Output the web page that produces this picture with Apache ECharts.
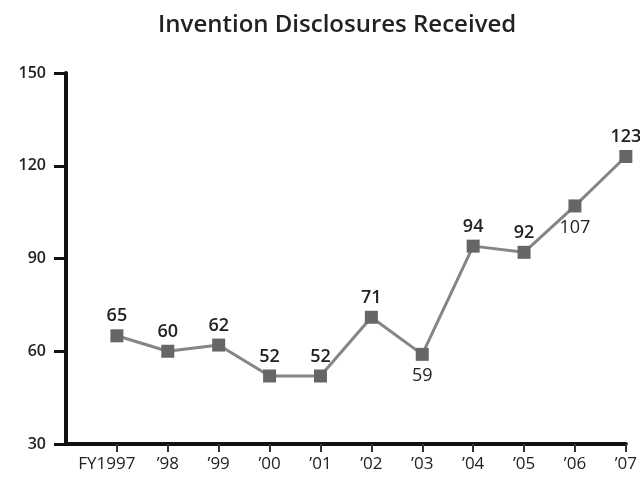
<!DOCTYPE html>
<html lang="en">
<head>
    <meta charset="UTF-8">
    <title>Invention Disclosures Received</title>
    <script src="https://cdn.jsdelivr.net/npm/echarts@6/dist/echarts.min.js"></script>
    <style>
        html, body { margin: 0; padding: 0; background: #fff; }
        #main { width: 640px; height: 487px; }
    </style>
</head>
<body>
    <div id="main"></div>
    <script>
        // data
        var years = ['', 'FY1997', '\u201998', '\u201999', '\u201900', '\u201901', '\u201902', '\u201903', '\u201904', '\u201905', '\u201906', '\u201907'];
        var disclosures = [null, 65, 60, 62, 52, 52, 71, 59, 94, 92, 107, 123];
        // labels that sit under the marker instead of above
        var labelBelow = ['\u201903', '\u201906'];

        var points = disclosures.map(function (v, i) {
            if (v === null) return null;
            var below = labelBelow.indexOf(years[i]) >= 0;
            return {
                value: v,
                label: below
                    ? { position: 'bottom', distance: 6, fontWeight: 'normal' }
                    : { position: 'top', distance: 4 }
            };
        });

        // first label sits a little left of its tick in the original
        var xLabels = years.map(function (y, i) {
            return i === 1 ? { value: y, textStyle: { padding: [0, 20, 0, 0] } } : y;
        });

        var myChart = echarts.init(document.getElementById('main'));

        var option = {
            animation: false,
            textStyle: { fontFamily: 'Open Sans' },
            title: {
                text: 'Invention Disclosures Received',
                left: 153,
                top: 8,
                textStyle: { fontSize: 24, fontWeight: 600, color: '#222', fontFamily: 'Open Sans' }
            },
            grid: { left: 66, right: 14, top: 73, bottom: 43 },
            xAxis: {
                type: 'category',
                data: xLabels,
                boundaryGap: false,
                axisLine: { lineStyle: { color: '#111', width: 4 } },
                axisTick: {
                    length: 8,
                    interval: function (i) { return i > 0; },
                    lineStyle: { color: '#333', width: 2 }
                },
                axisLabel: { margin: 12, fontSize: 17, color: '#222', interval: 0 }
            },
            yAxis: {
                type: 'value',
                min: 30,
                max: 150,
                interval: 30,
                axisLine: { show: true, lineStyle: { color: '#111', width: 4 } },
                axisTick: { show: true, length: 12, lineStyle: { color: '#111', width: 3 } },
                axisLabel: { margin: 20, fontSize: 16, fontWeight: 600, color: '#222' },
                splitLine: { show: false }
            },
            series: [
                {
                    name: 'Invention Disclosures',
                    type: 'line',
                    data: points,
                    connectNulls: false,
                    symbol: 'rect',
                    symbolSize: 13,
                    itemStyle: { color: '#666' },
                    lineStyle: { color: '#858585', width: 3 },
                    label: {
                        show: true,
                        fontSize: 18,
                        fontWeight: 600,
                        color: '#222'
                    }
                }
            ]
        };

        myChart.setOption(option);
    </script>
</body>
</html>
